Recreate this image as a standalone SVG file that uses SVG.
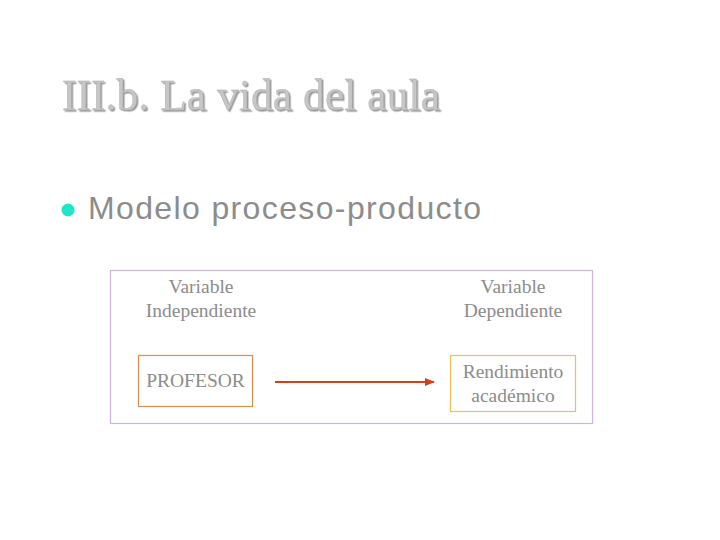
<svg xmlns="http://www.w3.org/2000/svg" width="720" height="540" viewBox="0 0 720 540">
<defs>
<style>
.title{font-family:"Liberation Serif",serif;font-size:44px;fill:#c6c6c6;stroke:#a8a8a8;stroke-width:0.3}
.sub{font-family:"Liberation Sans",Arial,sans-serif;font-size:32px;fill:#8c8c8c}
.lbl{font-family:"Liberation Serif",serif;font-size:19.5px;fill:#8c8c8c;text-anchor:middle}
.box{fill:#fff;stroke-width:1.2}
</style>
<filter id="sh" x="-5%" y="-20%" width="110%" height="140%"><feDropShadow dx="1.5" dy="1.5" stdDeviation="0.5" flood-color="#808080" flood-opacity="0.8"/></filter>
<marker id="ah" viewBox="0 0 10 10" refX="9" refY="5" markerWidth="5" markerHeight="5" orient="auto"><path d="M0,1 L10,5 L0,9 z" fill="#d2401e"/></marker>
</defs>
<rect width="720" height="540" fill="#fff"/>
<g id="title">
<text class="title" x="62" y="110" textLength="378" lengthAdjust="spacingAndGlyphs" filter="url(#sh)">III.b. La vida del aula</text>
</g>
<g id="bullet">
<circle cx="68" cy="210" r="6.5" fill="#1ee6c8"/>
<text class="sub" x="88" y="219" textLength="393" lengthAdjust="spacing">Modelo proceso-producto</text>
</g>
<g id="frame"><rect x="110.5" y="270.5" width="482" height="153" fill="#fff" stroke="#cfb4dc" stroke-width="1.2"/></g>
<g id="vi"><text class="lbl" x="201" y="293">Variable</text><text class="lbl" x="201" y="317">Independiente</text></g>
<g id="vd"><text class="lbl" x="513" y="293">Variable</text><text class="lbl" x="513" y="317">Dependiente</text></g>
<g id="profesor"><rect class="box" x="138.5" y="355.5" width="114" height="51" stroke="#d89050"/><text class="lbl" x="195.5" y="387">PROFESOR</text></g>
<g id="rendimiento"><rect class="box" x="450.5" y="355.5" width="125" height="56" stroke="#f0c050"/><text class="lbl" x="513" y="378">Rendimiento</text><text class="lbl" x="513" y="402">académico</text></g>
<g id="connectors"><line x1="275" y1="382" x2="434" y2="382" stroke="#d2401e" stroke-width="2" marker-end="url(#ah)"/></g>
</svg>
